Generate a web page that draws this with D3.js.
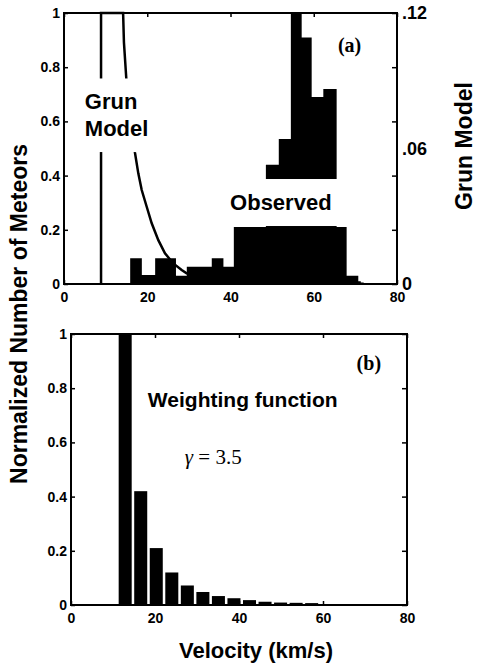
<!DOCTYPE html>
<html>
<head>
<meta charset="utf-8">
<script src="https://cdn.jsdelivr.net/npm/d3@7"></script>
<style>
  body { margin: 0; background: #fff; }
  svg { display: block; }
  .tick text { font-family: "Liberation Sans", Arial, sans-serif; font-weight: bold; }
</style>
</head>
<body>
<div id="chart"></div>
<script>
var width = 480, height = 667;

// panel (a) observed histogram: bin edges (km/s) and normalized counts
var obsEdges = [15.9, 18.7, 21.9, 24.4, 26.9, 29.5, 32.5, 35.5, 38.3, 40.8, 43.4, 46.0, 48.5, 51.6, 54.5, 57.1, 59.5, 62.3, 65.5, 67.9, 70.7, 71.3];
var obsValues = [0.095, 0.033, 0.095, 0.095, 0.03, 0.064, 0.064, 0.095, 0.064, 0.21, 0.21, 0.21, 0.44, 0.535, 1.0, 0.91, 0.69, 0.72, 0.21, 0.03, 0.01];

// panel (a) Grun model curve (right axis units)
var grunV = [8.9, 8.9, 14.2, 14.4, 15.0, 17.06, 17.85, 18.67, 19.87, 21.07, 22.66, 24.26, 26.26, 28.27, 29.47, 33, 40, 50, 60, 72];
var grunN = [0, 0.12, 0.12, 0.107, 0.09, 0.058, 0.049, 0.0416, 0.0342, 0.0269, 0.0194, 0.0136, 0.0091, 0.0062, 0.0047, 0.0025, 0.0012, 0.0006, 0.0003, 0.0001];

// panel (b) weighting function bars
var wCenters = [12.9, 16.6, 20.3, 24.0, 27.7, 31.4, 35.1, 38.8, 42.5, 46.2, 49.9, 53.6, 57.3];
var wValues = [1, 0.42, 0.21, 0.12, 0.072, 0.048, 0.033, 0.025, 0.018, 0.012, 0.009, 0.008, 0.007];
var wBarWidth = 3.1;

var xTicks = [0, 20, 40, 60, 80];
var yTicks = [0, 0.2, 0.4, 0.6, 0.8, 1];
var rightTicks = [0, 0.06, 0.12];

var svg = d3.select("#chart").append("svg")
  .attr("width", width).attr("height", height);

var sans = "'Liberation Sans', Arial, sans-serif";
var serif = "'Liberation Serif', 'Times New Roman', serif";
var fmtY = function(d){ return String(+d.toFixed(1)); };

function panel(box) {
  var x = d3.scaleLinear().domain([0, 80]).range([box.left, box.right]);
  var y = d3.scaleLinear().domain([0, 1]).range([box.bottom, box.top]);
  var g = svg.append("g");
  return {x: x, y: y, g: g, box: box};
}

function drawAxes(p) {
  var g = p.g, x = p.x, y = p.y, b = p.box;
  g.append("g").attr("transform", "translate(" + b.left + ",0)")
    .call(d3.axisLeft(y).tickValues(yTicks).tickFormat(fmtY).tickSizeInner(-4).tickSizeOuter(0).tickPadding(4))
    .call(function(s){ s.select(".domain").remove(); s.selectAll("text").style("font-size", "14px"); });
  g.append("g").attr("transform", "translate(0," + b.bottom + ")")
    .call(d3.axisBottom(x).tickValues(xTicks).tickFormat(d3.format("d")).tickSizeInner(-4).tickSizeOuter(0).tickPadding(8))
    .call(function(s){ s.select(".domain").remove(); s.selectAll("text").style("font-size", "14px"); });
  g.append("g").attr("transform", "translate(0," + b.top + ")")
    .call(d3.axisTop(x).tickValues(xTicks).tickFormat("").tickSizeInner(-4).tickSizeOuter(0))
    .call(function(s){ s.select(".domain").remove(); });
  g.append("g").attr("transform", "translate(" + b.right + ",0)")
    .call(d3.axisRight(y).tickValues(yTicks).tickFormat("").tickSizeInner(-5).tickSizeOuter(0))
    .call(function(s){ s.select(".domain").remove(); });
  g.selectAll(".tick line").attr("stroke", "#000").attr("stroke-width", 1.5);
  g.append("rect")
    .attr("x", b.left).attr("y", b.top)
    .attr("width", b.right - b.left).attr("height", b.bottom - b.top)
    .attr("fill", "none").attr("stroke", "#000").attr("stroke-width", 2);
}

// label with a white box behind it (hides the marks underneath, as in the figure)
function boxedText(g, lines, fontSize, pad) {
  var t = g.append("g");
  var bg = t.append("rect").attr("fill", "#fff");
  lines.forEach(function(l){
    t.append("text").attr("x", l.x).attr("y", l.y)
      .style("font-family", sans)
      .style("font-weight", "bold").style("font-size", fontSize + "px")
      .text(l.text);
  });
  var bb = t.node().getBBox();
  bg.attr("x", bb.x - pad).attr("y", bb.y - pad)
    .attr("width", bb.width + 2 * pad).attr("height", bb.height + 2 * pad);
}

// ---------- panel (a)
var A = panel({left: 64, right: 397, top: 13, bottom: 284});
var yR = d3.scaleLinear().domain([0, 0.12]).range([A.box.bottom, A.box.top]);

var obsSteps = obsValues.map(function(v, i){ return [obsEdges[i], v]; });
obsSteps.push([obsEdges[obsEdges.length - 1], obsValues[obsValues.length - 1]]);

var obsArea = d3.area()
  .curve(d3.curveStepAfter)
  .x(function(d){ return A.x(d[0]); })
  .y0(A.y(0))
  .y1(function(d){ return A.y(d[1]); });
A.g.append("path").datum(obsSteps).attr("d", obsArea).attr("fill", "#000");

var grunLine = d3.line()
  .x(function(d){ return A.x(d[0]); })
  .y(function(d){ return yR(d[1]); });
A.g.append("path")
  .datum(grunV.map(function(v, i){ return [v, grunN[i]]; }))
  .attr("d", grunLine)
  .attr("fill", "none").attr("stroke", "#000").attr("stroke-width", 2.5);

boxedText(A.g, [
  {text: "Grun", x: A.x(5.0), y: A.y(0.644)},
  {text: "Model", x: A.x(5.0), y: A.y(0.546)}
], 22, 11);
boxedText(A.g, [{text: "Observed", x: A.x(39.9), y: A.y(0.273)}], 22, 11);

A.g.append("text").attr("x", A.x(65.8)).attr("y", A.y(0.856))
  .style("font-family", serif)
  .style("font-weight", "bold").style("font-size", "20px").text("(a)");

drawAxes(A);

A.g.append("g").attr("transform", "translate(" + A.box.right + ",0)")
  .call(d3.axisRight(yR).tickValues(rightTicks).tickSize(0).tickPadding(5)
    .tickFormat(function(d){ return d === 0 ? "0" : d3.format(".2f")(d).replace(/^0/, ""); }))
  .call(function(s){ s.select(".domain").remove(); s.selectAll("text").style("font-size", "18px"); });

svg.append("text")
  .attr("transform", "translate(472,146) rotate(-90)")
  .attr("text-anchor", "middle")
  .style("font-family", sans)
  .style("font-weight", "bold").style("font-size", "23px")
  .text("Grun Model");

// ---------- panel (b)
var B = panel({left: 71, right: 407, top: 334, bottom: 605});

B.g.selectAll(".wbar").data(wValues).enter().append("rect")
  .attr("class", "wbar")
  .attr("x", function(d, i){ return B.x(wCenters[i] - wBarWidth / 2); })
  .attr("width", B.x(wBarWidth) - B.x(0))
  .attr("y", function(d){ return B.y(d); })
  .attr("height", function(d){ return B.y(0) - B.y(d); })
  .attr("fill", "#000");

B.g.append("text").attr("x", B.x(18.3)).attr("y", B.y(0.73))
  .style("font-family", sans)
  .style("font-weight", "bold").style("font-size", "21px")
  .text("Weighting function");

var gam = B.g.append("text").attr("x", B.x(27.1)).attr("y", B.y(0.52))
  .style("font-family", serif)
  .style("font-size", "21px");
gam.append("tspan").style("font-style", "italic").text("\u03b3");
gam.append("tspan").text(" = 3.5");

B.g.append("text").attr("x", B.x(68)).attr("y", B.y(0.867))
  .style("font-family", serif)
  .style("font-weight", "bold").style("font-size", "20px").text("(b)");

drawAxes(B);

// shared labels
svg.append("text")
  .attr("transform", "translate(27,314) rotate(-90)")
  .attr("text-anchor", "middle")
  .style("font-family", sans)
  .style("font-weight", "bold").style("font-size", "23px")
  .text("Normalized Number of Meteors");

svg.append("text")
  .attr("x", 256).attr("y", 658)
  .attr("text-anchor", "middle")
  .style("font-family", sans)
  .style("font-weight", "bold").style("font-size", "22px")
  .text("Velocity (km/s)");
</script>
</body>
</html>
